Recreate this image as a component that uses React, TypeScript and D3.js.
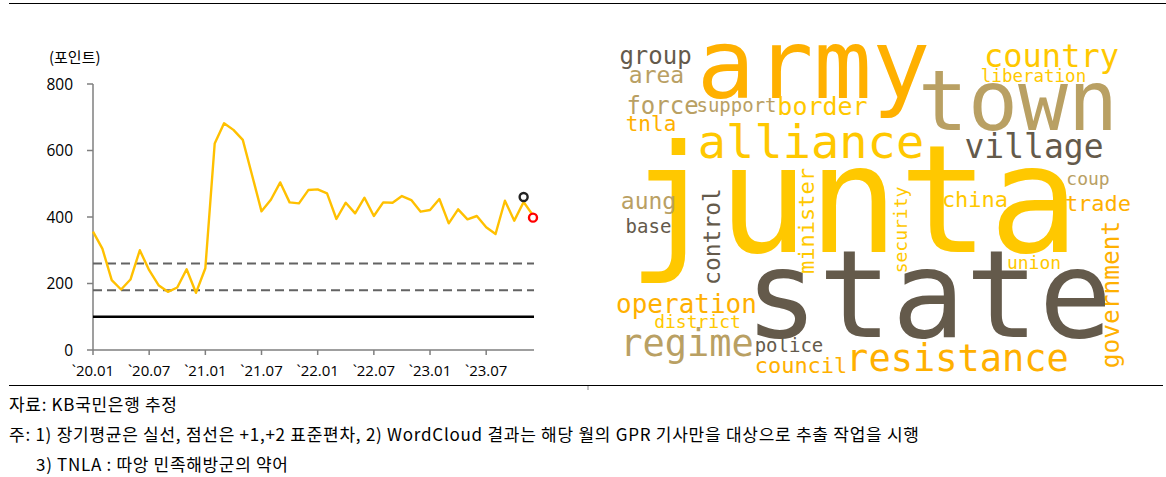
import React from "react";
import * as d3 from "d3";

// ---- line chart data ----
const months: string[] = [];
const yearsList = ["20", "21", "22", "23"];
const monthNums = ["01","02","03","04","05","06","07","08","09","10","11","12"];
yearsList.forEach((yy) => monthNums.forEach((mm) => months.push(`\`${yy}.${mm}`)));

const gprValues = [356, 305, 210, 182, 212, 300, 240, 195, 175, 188, 243, 172,
  246, 621, 682, 662, 632, 525, 417, 452, 504, 444, 441, 481,
  483, 471, 394, 443, 411, 458, 403, 444, 443, 463, 451, 416,
  421, 454, 381, 423, 393, 403, 369, 349, 449, 389, 445, 405];

const tickLabels = ["`20.01", "`20.07", "`21.01", "`21.07", "`22.01", "`22.07", "`23.01", "`23.07"];
const yTicks = [0, 200, 400, 600, 800];
const longTermMean = 100;
const sigmaLines = [180, 260];
const markerBlack = { index: 46, value: 460 };
const markerRed = { index: 47, value: 398 };

// ---- word cloud data (cloud coordinates: cx, baseline, size, rotate) ----
const cloudWords = ["junta", "state", "army", "town", "alliance", "village", "resistance", "regime", "country", "operation", "government", "control", "border", "group", "force", "area", "aung", "china", "trade", "minister", "council", "tnla", "support", "base", "district", "police", "coup", "union", "security", "liberation"];
const cloudColorKey = ["Y", "D", "O", "T", "Y", "D", "O", "T", "Y", "O", "O", "D", "Y", "D", "T", "T", "T", "Y", "O", "Y", "O", "O", "T", "D", "Y", "D", "T", "Y", "Y", "Y"];
const cloudSize = [150, 122, 97, 83, 47, 33, 37, 37, 32, 26, 24.5, 23, 25, 24, 24, 23, 23, 22, 22, 22, 22, 21, 19, 19, 18, 19, 18, 18, 18, 17.5];
const cloudCx = [238.5, 313.5, 198.5, 403, 196, 419, 342.5, 72, 436.5, 71.5, 504, 105, 207.5, 40.5, 47.5, 41.5, 33.5, 360, 483, 199, 186, 36, 121.5, 33.5, 82.5, 174, 473, 419, 292, 418.5];
const cloudBase = [252, 337, 98, 130, 158, 158, 371, 356, 67, 313, 294.5, 236.5, 115, 64, 114, 83, 209, 207, 211, 221, 373, 131, 112, 233, 328, 352, 185, 269, 230, 82];
const cloudRotate = [0, 0, 0, 0, 0, 0, 0, 0, 0, 0, -90, -90, 0, 0, 0, 0, 0, 0, 0, -90, 0, 0, 0, 0, 0, 0, 0, 0, -90, 0];
const cloudPalette: Record<string, string> = { Y: "#FFC800", O: "#FFB000", T: "#B9A063", D: "#645A4B" };

const notes = [
  "자료: KB국민은행 추정",
  "주: 1) 장기평균은 실선, 점선은 +1,+2 표준편차, 2) WordCloud 결과는 해당 월의 GPR 기사만을 대상으로 추출 작업을 시행",
  "3) TNLA : 따앙 민족해방군의 약어",
];
const noteWidths = [168, 910, 252];

export default function App() {
  const W = 1166, H = 477;
  const x = d3.scaleLinear().domain([0, months.length - 1]).range([93, 533]);
  const y = d3.scaleLinear().domain([0, 800]).range([350, 84]);
  const line = d3.line<number>().x((_, i) => x(i)).y((d) => y(d));
  const xEnd = 534;
  const cX = d3.scaleLinear().domain([0, 520]).range([615, 1135]);
  const cY = d3.scaleLinear().domain([0, 520]).range([0, 520]);
  const numFont = "'Open Sans', 'Noto Sans CJK KR', sans-serif";
  const krFont = "'Noto Sans CJK KR', sans-serif";

  return (
    <svg width={W} height={H} style={{ position: "absolute", left: 0, top: 0, background: "#fff" }}>
      <line x1={9} x2={1166} y1={3.5} y2={3.5} stroke="#000" strokeWidth={1.2} />
      <line x1={9} x2={1163} y1={385.5} y2={385.5} stroke="#000" strokeWidth={1.2} />
      <line x1={588} x2={588} y1={386} y2={390} stroke="#888" strokeWidth={1} />

      {/* y axis */}
      <text x={49} y={63} fontFamily={krFont} fontSize={15} fill="#000">(포인트)</text>
      <line x1={93} x2={93} y1={y(800)} y2={y(0)} stroke="#7f7f7f" strokeWidth={1.5} />
      {yTicks.map((t) => (
        <g key={t}>
          <line x1={87} x2={93} y1={y(t)} y2={y(t)} stroke="#7f7f7f" strokeWidth={1.5} />
          <text x={73} y={y(t) + 5.5} textAnchor="end" fontFamily={numFont} fontSize={15.5} fill="#000">{t}</text>
        </g>
      ))}
      {/* x axis */}
      <line x1={93} x2={xEnd} y1={y(0)} y2={y(0)} stroke="#7f7f7f" strokeWidth={1.5} />
      {tickLabels.map((lab) => {
        const idx = months.indexOf(lab);
        return (
          <g key={lab}>
            <line x1={x(idx)} x2={x(idx)} y1={y(0)} y2={y(0) + 5} stroke="#7f7f7f" strokeWidth={1.5} />
            <text x={x(idx)} y={376} textAnchor="middle" fontFamily={numFont} fontSize={15} fill="#000">{lab}</text>
          </g>
        );
      })}

      {/* reference lines */}
      {sigmaLines.map((v) => (
        <line key={v} x1={93} x2={xEnd} y1={y(v)} y2={y(v)} stroke="#636363" strokeWidth={2} strokeDasharray="9,5" />
      ))}
      <line x1={93} x2={xEnd} y1={y(longTermMean)} y2={y(longTermMean)} stroke="#000" strokeWidth={2.4} />

      <path d={line(gprValues) || ""} fill="none" stroke="#FFC000" strokeWidth={2.4} strokeLinejoin="round" />
      <circle cx={x(markerBlack.index)} cy={y(markerBlack.value)} r={4} fill="#fff" stroke="#222" strokeWidth={2.4} />
      <circle cx={x(markerRed.index)} cy={y(markerRed.value)} r={4} fill="#fff" stroke="#FF0000" strokeWidth={2.4} />

      {/* word cloud */}
      {cloudWords.map((w, i) => {
        const rot = cloudRotate[i];
        const common = {
          textAnchor: "middle" as const,
          fontFamily: "'DejaVu Sans Mono', monospace",
          fontSize: cloudSize[i],
          fill: cloudPalette[cloudColorKey[i]],
        };
        if (rot !== 0) {
          // rotated: cloudCx holds baseline x, cloudBase holds centre y
          return (
            <text key={w} transform={`translate(${cX(cloudCx[i])},${cY(cloudBase[i])}) rotate(${rot})`} {...common}>{w}</text>
          );
        }
        return <text key={w} x={cX(cloudCx[i])} y={cY(cloudBase[i])} {...common}>{w}</text>;
      })}

      {/* notes */}
      <text x={9} y={411} fontFamily={krFont} fontSize={17} fill="#000" textLength={noteWidths[0]} lengthAdjust="spacing">{notes[0]}</text>
      <text x={9} y={441} fontFamily={krFont} fontSize={17} fill="#000" textLength={noteWidths[1]} lengthAdjust="spacing">{notes[1]}</text>
      <text x={36} y={471} fontFamily={krFont} fontSize={17} fill="#000" textLength={noteWidths[2]} lengthAdjust="spacing">{notes[2]}</text>
    </svg>
  );
}
